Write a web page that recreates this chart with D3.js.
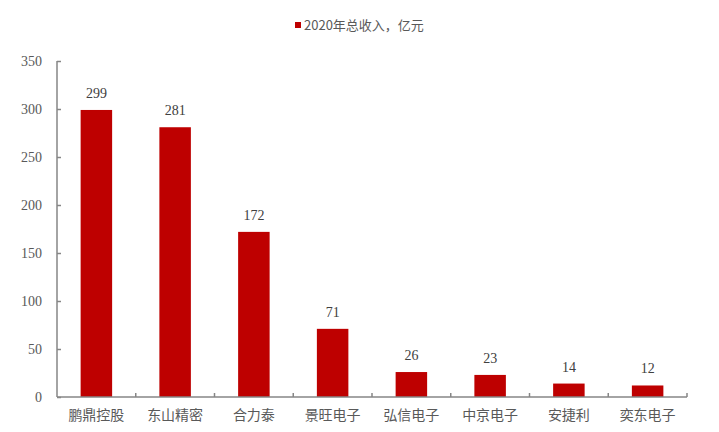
<!DOCTYPE html>
<html>
<head>
<meta charset="utf-8">
<script src="https://cdn.jsdelivr.net/npm/d3@7"></script>
<style>
  body { margin: 0; background: #fff; }
  svg { display: block; }
</style>
</head>
<body>
<svg></svg>
<script>
// categories and values
var companies = ["鹏鼎控股", "东山精密", "合力泰", "景旺电子", "弘信电子", "中京电子", "安捷利", "奕东电子"];
var revenue = [299, 281, 172, 71, 26, 23, 14, 12];
var yTicks = [0, 50, 100, 150, 200, 250, 300, 350];
var legendLabel = "2020年总收入，亿元";

var W = 719, H = 432;
var plot = { left: 57, right: 687, top: 61, bottom: 397 };
var barColor = "#BE0000";
var axisColor = "#868686";

var pic = d3.select("svg").attr("width", W).attr("height", H);

var x = d3.scaleBand().domain(companies).range([plot.left, plot.right]).paddingInner(0.6).paddingOuter(0.3);
var y = d3.scaleLinear().domain([0, 350]).range([plot.bottom, plot.top]);

// bars
pic.selectAll("rect.bar").data(revenue).enter().append("rect")
  .attr("class", "bar")
  .attr("x", function(d, i){ return x(companies[i]); })
  .attr("y", function(d){ return y(d); })
  .attr("width", x.bandwidth())
  .attr("height", function(d){ return y(0) - y(d); })
  .attr("fill", barColor);

// value labels
pic.selectAll("text.val").data(revenue).enter().append("text")
  .attr("class", "val")
  .attr("x", function(d, i){ return x(companies[i]) + x.bandwidth() / 2; })
  .attr("y", function(d){ return y(d) - 12; })
  .attr("text-anchor", "middle")
  .attr("font-family", "Liberation Serif, Times New Roman, serif")
  .attr("font-size", 14)
  .attr("fill", "#404040")
  .text(function(d){ return d; });

// y axis
var yAxis = pic.append("g").attr("transform", "translate(" + plot.left + ",0)")
  .call(d3.axisLeft(y).tickValues(yTicks).tickSize(-4).tickPadding(15));
yAxis.select(".domain").attr("stroke", axisColor).attr("stroke-width", 1.5).attr("d", "M0," + y(350) + "V" + y(0));
yAxis.selectAll(".tick line").attr("stroke", axisColor).attr("stroke-width", 1.5);
yAxis.selectAll(".tick text")
  .attr("font-family", "Liberation Serif, Times New Roman, serif")
  .attr("font-size", 14).attr("fill", "#595959");

// x axis: ticks at category boundaries
var bounds = companies.map(function(c){ return x(c) - x.step() * x.paddingInner() / 2; }).concat([plot.right]);
var xg = pic.append("g");
xg.append("line").attr("x1", plot.left).attr("x2", plot.right)
  .attr("y1", y(0)).attr("y2", y(0))
  .attr("stroke", axisColor).attr("stroke-width", 1.5);
xg.selectAll("line.tk").data(bounds.slice(1)).enter().append("line")
  .attr("class", "tk")
  .attr("x1", function(d){ return d; }).attr("x2", function(d){ return d; })
  .attr("y1", y(0)).attr("y2", y(0) - 4)
  .attr("stroke", axisColor).attr("stroke-width", 1.5);
xg.selectAll("text").data(companies).enter().append("text")
  .attr("x", function(d){ return x(d) + x.bandwidth() / 2; })
  .attr("y", y(0) + 23)
  .attr("text-anchor", "middle")
  .attr("font-family", "Noto Sans CJK SC, sans-serif")
  .attr("font-size", 14)
  .attr("fill", "#595959")
  .text(function(d){ return d; });

// legend
var lg = pic.append("g");
lg.append("rect").attr("x", 295).attr("y", 22).attr("width", 6).attr("height", 6).attr("fill", barColor);
lg.append("text").attr("x", 304).attr("y", 30)
  .attr("font-family", "Noto Sans CJK SC, sans-serif")
  .attr("font-size", 13)
  .attr("fill", "#595959")
  .text(legendLabel);
</script>
</body>
</html>
